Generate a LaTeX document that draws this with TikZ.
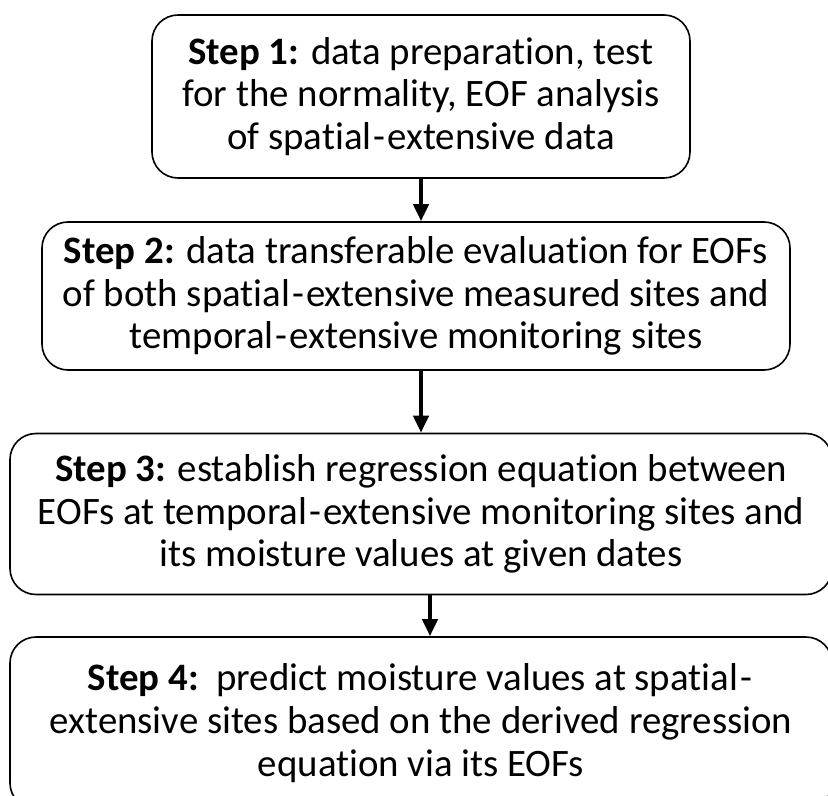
\documentclass[tikz,border=0pt]{standalone}
\usepackage{fontspec}
\setmainfont{Carlito}[Ligatures=NoCommon]
\usetikzlibrary{arrows.meta}
\newcommand{\hy}{\kern2bp-\kern2bp}
\tikzset{
  stepbox/.style={draw, line width=1.6bp, rounded corners=26bp, align=center,
    inner sep=0pt, font=\fontsize{39}{43}\selectfont},
  flow/.style={line width=4bp, -{Triangle[width=15bp,length=17bp]}}
}
\begin{document}
\begin{tikzpicture}[x=1bp,y=-1bp]
\useasboundingbox (0,0) rectangle (828,796);
\clip (0,0) rectangle (828,796);
\node[stepbox, minimum width=538bp, minimum height=163bp] (b1) at (421,96.5)
  {\textbf{Step 1:} data preparation, test\\for the normality, EOF analysis\\of spatial\hy extensive data};
\node[stepbox, minimum width=748bp, minimum height=148bp] (b2) at (416,296)
  {\textbf{Step 2:} data transferable evaluation for EOFs\\of both spatial\hy extensive measured sites and\\temporal\hy extensive monitoring sites};
\node[stepbox, minimum width=822bp, minimum height=161bp] (b3) at (421,514)
  {\textbf{Step 3:} establish regression equation between\\EOFs at temporal\hy extensive monitoring sites and\\its moisture values at given dates};
\node[stepbox, minimum width=822bp, minimum height=172bp] (b4) at (421,723)
  {\textbf{Step 4:}\ \ predict moisture values at spatial\hy\\extensive sites based on the derived regression\\equation via its EOFs};
\draw[flow] (b1.south) -- (b1.south |- b2.north);
\draw[flow] ([xshift=5bp]b2.south) -- ([xshift=5bp]b2.south |- b3.north);
\draw[flow] ([xshift=9bp]b3.south) -- ([xshift=9bp]b3.south |- b4.north);
\end{tikzpicture}
\end{document}
